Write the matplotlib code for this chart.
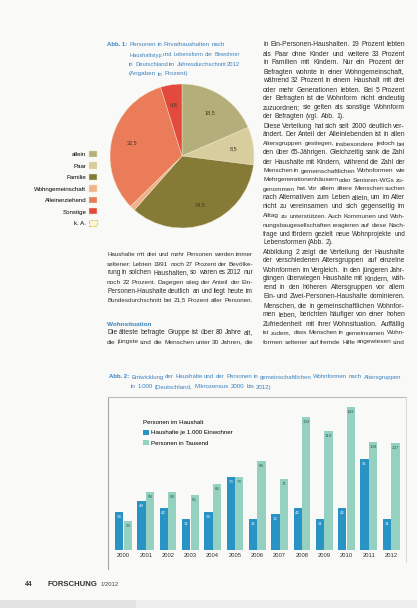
import numpy as np
import matplotlib
matplotlib.use("Agg")
import matplotlib.pyplot as plt
from matplotlib.patches import Patch, Rectangle
from matplotlib.lines import Line2D
from matplotlib.font_manager import FontProperties

# ---------------- data ----------------
pie_labels = ["allein", "Paar", "Familie", "Wohngemeinschaft", "Alleinerziehend", "Sonstige"]
pie_extra_label = "k. A."
pie_values = [18.5, 8.5, 34.5, 1.2, 32.5, 4.8]
pie_colors = ["#b4ae7b", "#d8cd9c", "#857b37", "#f2b38c", "#eb7c59", "#e4493d"]

years = ["2000", "2001", "2002", "2003", "2004", "2005", "2006",
         "2007", "2008", "2009", "2010", "2011", "2012"]
bar_legend_title = "Personen im Haushalt"
series_a_label = "Haushalte je 1.000 Einwohner"
series_a = [38, 49, 42, 31, 38, 73, 31, 36, 42, 31, 42, 91, 31]
series_b_label = "Personen in Tausend"
series_b = [29, 58, 58, 55, 66, 73, 89, 71, 133, 119, 143, 108, 107]

W_PX, H_PX = 417, 608
fig = plt.figure(figsize=(W_PX / 100, H_PX / 100), dpi=100)
fig.patch.set_facecolor("#f9f9f8")


def fx(px):
    return px / W_PX


def fy(py):
    return 1 - py / H_PX


renderer = fig.canvas.get_renderer()
BODY = "Liberation Sans"
TXT = "#303030"


def tw(s, fp):
    return renderer.get_text_width_height_descent(s, fp, False)[0]


def put_line(text, x0, x1, y, size=4.9, color=TXT, weight="normal",
             justify=True, family=BODY):
    fp = FontProperties(family=family, size=size, weight=weight)
    words = text.split()
    widths = [tw(w, fp) for w in words]
    space = tw("a a", fp) - tw("aa", fp)
    W = x1 - x0
    natural = sum(widths) + space * (len(words) - 1)
    scale = 1.0
    if natural > W:
        scale = W / natural
        fp = FontProperties(family=family, size=size * scale, weight=weight)
        widths = [w * scale for w in widths]
    if justify and len(words) > 1:
        gap = (W - sum(widths)) / (len(words) - 1)
    else:
        gap = space * scale
    x = x0
    for w, wd in zip(words, widths):
        fig.text(fx(x), fy(y), w, fontproperties=fp, color=color,
                 va="center", ha="left")
        x += wd + gap


# ---------------- pie chart ----------------
cx, cy, r = 182, 156, 72
ax_pie = fig.add_axes([fx(cx - r), fy(cy + r), 2 * r / W_PX, 2 * r / H_PX])
wedges, _, autotexts = ax_pie.pie(
    pie_values, colors=pie_colors, startangle=90, counterclock=False,
    autopct=lambda p: ("%.1f" % p).replace(".", ",") if p > 2 else "",
    pctdistance=0.72, radius=1.0,
    textprops=dict(fontsize=4, color="#3d3a22", family=BODY),
    wedgeprops=dict(edgecolor="#efe8c6", linewidth=0.3))
ax_pie.set_xlim(-1.0, 1.0)
ax_pie.set_ylim(-1.0, 1.0)
ax_pie.set_facecolor("none")

extra_handle = Patch(facecolor="#fbf5d6", edgecolor="#e2c23a",
                     linestyle="--", linewidth=0.6)
fig.legend(list(wedges) + [extra_handle], pie_labels + [pie_extra_label],
           loc="upper right", bbox_to_anchor=(fx(97), fy(151)),
           markerfirst=False, frameon=False,
           prop=FontProperties(family=BODY, size=4.4),
           handlelength=1.35, handleheight=1.15, labelspacing=0.88,
           handletextpad=0.4, borderpad=0, borderaxespad=0)

# caption Abb. 1
CAP = "#3b82bd"
IND1 = 129
fig.text(fx(107), fy(45), "Abb. 1:", fontsize=4.3, weight="bold",
         color=CAP, va="center", family=BODY)
put_line("Personen in Privathaushalten nach", IND1, 225, 45, size=4.5,
         color=CAP, justify=False)
put_line("Haushaltstyp und Lebensform der Bewohner", IND1, 240, 55,
         size=4.5, color=CAP, justify=False)
put_line("in Deutschland im Jahresdurchschnitt 2012", IND1, 240, 65,
         size=4.5, color=CAP, justify=False)
put_line("(Angaben in Prozent)", IND1, 192, 74, size=4.5, color=CAP,
         justify=False)

# ---------------- body text ----------------
right_col = [
    ("in Ein-Personen-Haushalten. 19 Prozent lebten", True),
    ("als Paar ohne Kinder und weitere 33 Prozent", True),
    ("in Familien mit Kindern. Nur ein Prozent der", True),
    ("Befragten wohnte in einer Wohngemeinschaft,", True),
    ("während 32 Prozent in einem Haushalt mit drei", True),
    ("oder mehr Generationen lebten. Bei 5 Prozent", True),
    ("der Befragten ist die Wohnform nicht eindeutig", True),
    ("zuzuordnen; sie gelten als sonstige Wohnform", True),
    ("der Befragten (vgl. Abb. 1).", False),
    ("Diese Verteilung hat sich seit 2000 deutlich ver-", True),
    ("ändert. Der Anteil der Alleinlebenden ist in allen", True),
    ("Altersgruppen gestiegen, insbesondere jedoch bei", True),
    ("den über 65-Jährigen. Gleichzeitig sank die Zahl", True),
    ("der Haushalte mit Kindern, während die Zahl der", True),
    ("Menschen in gemeinschaftlichen Wohnformen wie", True),
    ("Mehrgenerationenhäusern oder Senioren-WGs zu-", True),
    ("genommen hat. Vor allem ältere Menschen suchen", True),
    ("nach Alternativen zum Leben allein, um im Alter", True),
    ("nicht zu vereinsamen und sich gegenseitig im", True),
    ("Alltag zu unterstützen. Auch Kommunen und Woh-", True),
    ("nungsbaugesellschaften reagieren auf diese Nach-", True),
    ("frage und fördern gezielt neue Wohnprojekte und", True),
    ("Lebensformen (Abb. 2).", False),
    ("Abbildung 2 zeigt die Verteilung der Haushalte", True),
    ("der verschiedenen Altersgruppen auf einzelne", True),
    ("Wohnformen im Vergleich. In den jüngeren Jahr-", True),
    ("gängen überwiegen Haushalte mit Kindern, wäh-", True),
    ("rend in den höheren Altersgruppen vor allem", True),
    ("Ein- und Zwei-Personen-Haushalte dominieren.", True),
    ("Menschen, die in gemeinschaftlichen Wohnfor-", True),
    ("men leben, berichten häufiger von einer hohen", True),
    ("Zufriedenheit mit ihrer Wohnsituation. Auffällig", True),
    ("ist zudem, dass Menschen in gemeinsamen Wohn-", True),
    ("formen seltener auf fremde Hilfe angewiesen sind", True),
]
for i, (line, just) in enumerate(right_col):
    put_line(line, 263, 405, 45 + 9.0 * i, justify=just)

left_col = [
    "Haushalte mit drei und mehr Personen werden immer",
    "seltener: Lebten 1991 noch 27 Prozent der Bevölke-",
    "rung in solchen Haushalten, so waren es 2012 nur",
    "noch 22 Prozent. Dagegen stieg der Anteil der Ein-",
    "Personen-Haushalte deutlich an und liegt heute im",
    "Bundesdurchschnitt bei 21,5 Prozent aller Personen.",
]
for i, line in enumerate(left_col):
    put_line(line, 107, 253, 255 + 9.0 * i)

fig.text(fx(107), fy(324), "Wohnsituation", fontsize=4.6, weight="bold",
         color=CAP, va="center", family=BODY)
put_line("Die älteste befragte Gruppe ist über 80 Jahre alt,", 107, 253, 333)
put_line("die jüngste sind die Menschen unter 30 Jahren, die", 107, 253, 342)

# ---------------- bar chart ----------------
IND2 = 131
fig.text(fx(109), fy(377), "Abb. 2:", fontsize=4.3, weight="bold",
         color=CAP, va="center", family=BODY)
put_line("Entwicklung der Haushalte und der Personen in gemeinschaftlichen "
         "Wohnformen nach Altersgruppen", IND2, 401, 377, size=4.5,
         color=CAP)
put_line("in 1.000 (Deutschland, Mikrozensus 2000 bis 2012)", IND2, 272, 387,
         size=4.5, color=CAP, justify=False)

fig.add_artist(Line2D([fx(108), fx(108)], [fy(397), fy(569)],
                      color="#a4a4a4", lw=0.8))
fig.add_artist(Line2D([fx(108), fx(406)], [fy(397), fy(397)],
                      color="#bcbcbc", lw=0.8))
fig.add_artist(Line2D([fx(406), fx(406)], [fy(397), fy(562)],
                      color="#d4d4d4", lw=0.6))

ax = fig.add_axes([fx(110), fy(550), (403 - 110) / W_PX, (550 - 398) / H_PX])
ax.set_facecolor("none")
x = np.arange(len(years))
bw = 0.372
bars_a = ax.bar(x - 0.19, series_a, bw, color="#2a93c6")
bars_b = ax.bar(x + 0.19, series_b, bw, color="#94d1c0")
ax.set_xlim(-0.605, 12.53)
ax.set_ylim(0, 152)
for s in ax.spines.values():
    s.set_visible(False)
ax.set_yticks([])
ax.set_xticks(x)
ax.set_xticklabels(years, fontsize=4.2, color="#333333", family=BODY)
ax.tick_params(axis="x", length=0, pad=2.5)
ax.bar_label(bars_a, padding=-5, fontsize=3.2, color="#dff1f8", family=BODY)
ax.bar_label(bars_b, padding=-5, fontsize=3.2, color="#3a5a55", family=BODY)

ax.legend([bars_a, bars_b], [series_a_label, series_b_label],
          title=bar_legend_title, loc="upper left",
          bbox_to_anchor=(fx(143), fy(420)), bbox_transform=fig.transFigure,
          frameon=False, prop=FontProperties(family=BODY, size=4.4),
          title_fontproperties=FontProperties(family=BODY, size=4.4),
          handlelength=1.0, handleheight=1.0, handletextpad=0.3,
          labelspacing=0.75, borderpad=0, borderaxespad=0, alignment="left")

# ---------------- footer ----------------
fig.text(fx(25), fy(585), "44", fontsize=5, weight="bold", color="#333333",
         va="center", family=BODY)
fig.text(fx(48), fy(585), "FORSCHUNG", fontsize=5.6, weight="bold",
         color="#333333", va="center", family=BODY)
fig.text(fx(101), fy(585), "1/2012", fontsize=4.2, color="#444444",
         va="center", family=BODY)
fig.add_artist(Rectangle((0, 0), fx(136), 8 / H_PX, transform=fig.transFigure,
                         facecolor="#e3e3e3", edgecolor="none"))
fig.add_artist(Rectangle((fx(136), 0), 1 - fx(136), 8 / H_PX,
                         transform=fig.transFigure,
                         facecolor="#eeeeee", edgecolor="none"))

fig.savefig("out.png", dpi=100, facecolor=fig.get_facecolor())
